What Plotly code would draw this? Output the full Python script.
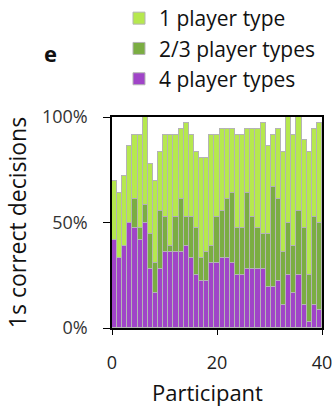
import plotly.graph_objects as go

# Share of correct 1 s decisions per participant, split by how many player types were handled
participants = list(range(41))

four_types = [41.7, 33.3, 38.9, 50.0, 47.2, 41.7, 50.0, 27.8, 16.7, 27.8,
              36.1, 36.1, 36.1, 36.1, 38.9, 33.3, 25.0, 22.2, 22.2, 30.6,
              30.6, 33.3, 33.3, 30.6, 25.0, 25.0, 27.8, 27.8, 27.8, 27.8,
              19.4, 19.4, 22.2, 11.1, 25.0, 16.7, 25.0, 11.1, 2.8, 11.1, 8.3]

two_three_types = [0.0, 0.0, 0.0, 0.0, 13.9, 5.6, 8.3, 16.7, 13.9, 27.8,
                   16.7, 2.8, 16.7, 25.0, 13.9, 19.4, 22.2, 11.1, 13.9, 8.3,
                   22.2, 22.2, 27.8, 33.3, 22.2, 22.2, 36.1, 25.0, 19.4, 16.7,
                   25.0, 47.2, 38.9, 25.0, 25.0, 22.2, 30.6, 36.1, 22.2, 41.7, 41.7]

one_type = [27.8, 30.6, 33.3, 36.1, 30.6, 44.4, 41.7, 33.3, 38.9, 27.8,
            38.9, 52.8, 38.9, 33.3, 44.4, 38.9, 36.1, 47.2, 44.4, 52.8,
            38.9, 38.9, 33.3, 30.6, 44.4, 44.4, 30.6, 41.7, 47.2, 52.8,
            41.7, 25.0, 33.3, 47.2, 50.0, 52.8, 44.4, 41.7, 58.3, 41.7, 47.2]

y_ticks = [0, 50, 100]
y_tick_labels = ["0%", "50%", "100%"]
x_ticks = [0, 20, 40]

FONT = "Open Sans"
n = len(participants)
step = 40 / n
x_pos = [(p + 0.5) * step for p in participants]

series = [
    ("4 player types", four_types, "#a044c8"),
    ("2/3 player types", two_three_types, "#7bad42"),
    ("1 player type", one_type, "#b6e84e"),
]

fig = go.Figure()
for name, vals, color in series:
    fig.add_trace(go.Bar(
        x=x_pos, y=vals, width=step, name=name,
        marker=dict(color=color, line=dict(color="#b4b4b4", width=1)),
    ))

fig.update_layout(
    width=334, height=408,
    margin=dict(l=112, r=12, t=117, b=80, autoexpand=False),
    barmode="stack", bargap=0,
    plot_bgcolor="white", paper_bgcolor="white",
    font=dict(family=FONT, color="#222222", size=18),
    showlegend=True,
    legend=dict(
        traceorder="reversed",
        xref="paper", yref="paper",
        x=(119 - 112) / 210, y=1 + 119 / 211, xanchor="left", yanchor="top",
        font=dict(family=FONT, size=21, color="#111111"),
        bgcolor="rgba(0,0,0,0)", tracegroupgap=0,
    ),
    annotations=[
        dict(
            text="<b>e</b>", xref="paper", yref="paper",
            x=(51 - 112) / 210, y=1 + (117 - 53) / 211,
            xanchor="center", yanchor="middle", showarrow=False,
            font=dict(family=FONT, size=22, color="#111111"),
        ),
        # x-axis title, set slightly left of the plot centre
        dict(
            text="Participant", xref="paper", yref="paper",
            x=(207 - 112) / 210, y=-(392 - 328) / 211,
            xanchor="center", yanchor="middle", showarrow=False,
            font=dict(family=FONT, size=22, color="#111111"),
        ),
    ],
)

fig.update_xaxes(
    range=[0, 40], tickvals=x_ticks, ticks="outside", ticklen=5,
    tickcolor="black", showline=True, linecolor="black", linewidth=1.5,
    mirror=True, showgrid=False, zeroline=False, ticklabelstandoff=13,
    tickfont=dict(size=18, color="#222222"),
)
fig.update_yaxes(
    range=[0, 100], tickvals=y_ticks, ticktext=y_tick_labels,
    ticks="outside", ticklen=7, tickcolor="black",
    showline=True, linecolor="black", linewidth=1.5, mirror=True,
    showgrid=False, zeroline=False, ticklabelstandoff=12,
    tickfont=dict(size=18, color="#333333"),
    title=dict(text="1s correct decisions", font=dict(size=23, color="#111111"), standoff=9),
)

fig.write_html("out.html")
